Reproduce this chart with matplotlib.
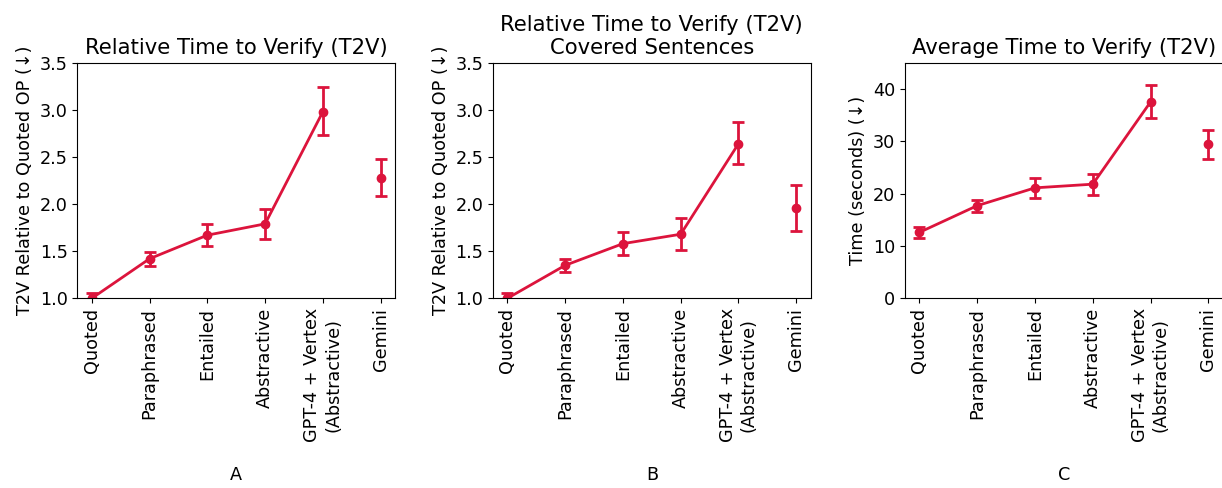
import matplotlib
matplotlib.use("Agg")
import matplotlib.pyplot as plt
import numpy as np

categories = ["Quoted", "Paraphrased", "Entailed", "Abstractive",
              "GPT-4 + Vertex\n(Abstractive)", "Gemini"]

# Panel A: relative T2V
a_mean = [1.00, 1.42, 1.67, 1.79, 2.98, 2.28]
a_low = [0.94, 1.34, 1.55, 1.63, 2.73, 2.09]
a_high = [1.06, 1.49, 1.79, 1.95, 3.24, 2.48]

# Panel B: relative T2V, covered sentences
b_mean = [1.00, 1.35, 1.58, 1.68, 2.64, 1.96]
b_low = [0.94, 1.28, 1.46, 1.51, 2.42, 1.71]
b_high = [1.06, 1.42, 1.70, 1.85, 2.87, 2.20]

# Panel C: average T2V in seconds
c_mean = [12.6, 17.7, 21.1, 21.8, 37.5, 29.4]
c_low = [11.5, 16.5, 19.1, 19.8, 34.4, 26.7]
c_high = [13.7, 18.7, 23.0, 23.8, 40.7, 32.2]

color = "#DC143C"
fs = 12.7
tfs = 15.2

fig = plt.figure(figsize=(12.22, 4.88), dpi=100)
W = 0.260
H = 0.4828
B = 0.3887
lefts = [0.0633, 0.4034, 0.7406]

panels = [
    (a_mean, a_low, a_high, "Relative Time to Verify (T2V)",
     "T2V Relative to Quoted OP (↓)", "A", (1.0, 3.5), np.arange(1.0, 3.51, 0.5)),
    (b_mean, b_low, b_high, "Relative Time to Verify (T2V)\nCovered Sentences",
     "T2V Relative to Quoted OP (↓)", "B", (1.0, 3.5), np.arange(1.0, 3.51, 0.5)),
    (c_mean, c_low, c_high, "Average Time to Verify (T2V)",
     "Time (seconds) (↓)", "C", (0, 45), np.arange(0, 41, 10)),
]

for left, (m, lo, hi, title, ylabel, xl, ylim, yticks) in zip(lefts, panels):
    ax = fig.add_axes([left, B, W, H])
    m = np.array(m); lo = np.array(lo); hi = np.array(hi)
    x = np.arange(len(categories))
    yerr = np.vstack([m - lo, hi - m])
    ax.errorbar(x, m, yerr=yerr, fmt="none", ecolor=color, elinewidth=2,
                capsize=4, capthick=2)
    ax.plot(x[:5], m[:5], color=color, lw=2)
    ax.plot(x, m, "o", color=color, ms=6)
    ax.set_xticks(x)
    ax.set_xticklabels(categories, rotation=90, fontsize=fs)
    ax.set_ylim(*ylim)
    ax.set_yticks(yticks)
    ax.tick_params(axis="y", labelsize=fs)
    ax.set_title(title, fontsize=tfs)
    ax.set_ylabel(ylabel, fontsize=fs)
    ax.set_xlabel(xl, fontsize=fs, labelpad=17)

fig.savefig("out.png", dpi=100)
